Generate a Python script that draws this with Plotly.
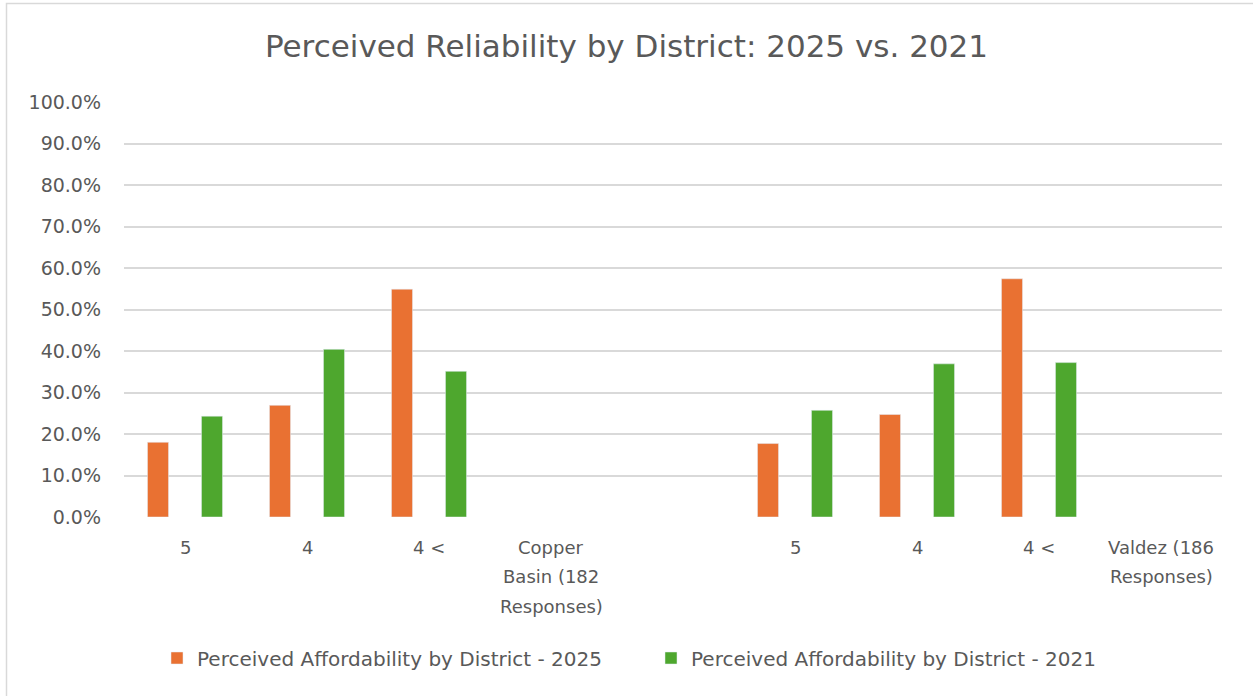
import plotly.graph_objects as go

# ---- data ----
categories = ["5", "4", "4 <", "Copper<br>Basin (182<br>Responses)", "",
              "5", "4", "4 <", "Valdez (186<br>Responses)"]
series_2025 = [18.0, 26.9, 54.9, None, None, 17.7, 24.7, 57.4, None]
series_2021 = [24.3, 40.4, 35.1, None, None, 25.7, 36.9, 37.2, None]
name_2025 = "Perceived Affordability by District - 2025"
name_2021 = "Perceived Affordability by District - 2021"
title_text = "Perceived Reliability by District: 2025 vs. 2021"
y_ticks = [0, 10, 20, 30, 40, 50, 60, 70, 80, 90, 100]
y_tick_labels = [f"{v:.1f}%" for v in y_ticks]

ORANGE = "#E97132"
GREEN = "#4EA72E"
TEXT = "#595959"
GRID = "#D9D9D9"
FONT = "DejaVu Sans"

W, H = 1253, 696
L, R, T, B = 124, 31, 102, 179
plot_w = W - L - R
plot_h = H - T - B

xpos = list(range(len(categories)))

fig = go.Figure()
fig.add_trace(go.Bar(x=xpos, y=series_2025, name=name_2025,
                     marker=dict(color=ORANGE)))
fig.add_trace(go.Bar(x=xpos, y=series_2021, name=name_2021,
                     marker=dict(color=GREEN)))

annotations = []
for i, lab in enumerate(categories):
    for j, line in enumerate(lab.split("<br>")):
        if not line:
            continue
        annotations.append(dict(
            x=i, xref="x", y=0, yref="paper", text=line, showarrow=False,
            xanchor="center", yanchor="middle", yshift=-(30 + j * 29.5),
            font=dict(family=FONT, size=18, color=TEXT)))

def px_to_paper_x(px):
    return (px - L) / plot_w

def px_to_paper_y(py):
    return (H - B - py) / plot_h

fig.update_layout(
    width=W, height=H,
    margin=dict(l=L, r=R, t=T, b=B),
    paper_bgcolor="white", plot_bgcolor="white",
    barmode="group", bargap=0.115, bargroupgap=0.61,
    title=dict(text=title_text, x=0.5, xref="container", xanchor="center",
               y=1 - 46 / H, yref="container", yanchor="middle",
               font=dict(family=FONT, size=31, color=TEXT)),
    xaxis=dict(range=[-0.5, len(categories) - 0.5], showticklabels=False,
               showgrid=False, zeroline=False, showline=False, ticks=""),
    yaxis=dict(range=[0, 100], tickmode="array", tickvals=y_ticks,
               ticktext=y_tick_labels,
               showgrid=True, gridcolor=GRID, gridwidth=1.5,
               zeroline=False, showline=False, ticks="",
               ticklabelstandoff=22,
               tickfont=dict(family=FONT, size=19, color=TEXT)),
    legend=dict(orientation="h", x=px_to_paper_x(157), xanchor="left",
                y=px_to_paper_y(658), yanchor="middle",
                entrywidth=449, entrywidthmode="pixels",
                font=dict(family=FONT, size=20, color=TEXT)),
    annotations=annotations,
    shapes=[dict(type="rect", xref="paper", yref="paper",
                 x0=px_to_paper_x(6.5), x1=px_to_paper_x(W + 20),
                 y0=px_to_paper_y(H + 20), y1=px_to_paper_y(3.5),
                 line=dict(color=GRID, width=1.5), fillcolor="rgba(0,0,0,0)",
                 layer="below")],
    showlegend=True,
)

fig.write_html("out.html",
               config={"displayModeBar": False},
               post_script="document.body.style.margin='0';"
                           "document.body.style.overflow='hidden';")
